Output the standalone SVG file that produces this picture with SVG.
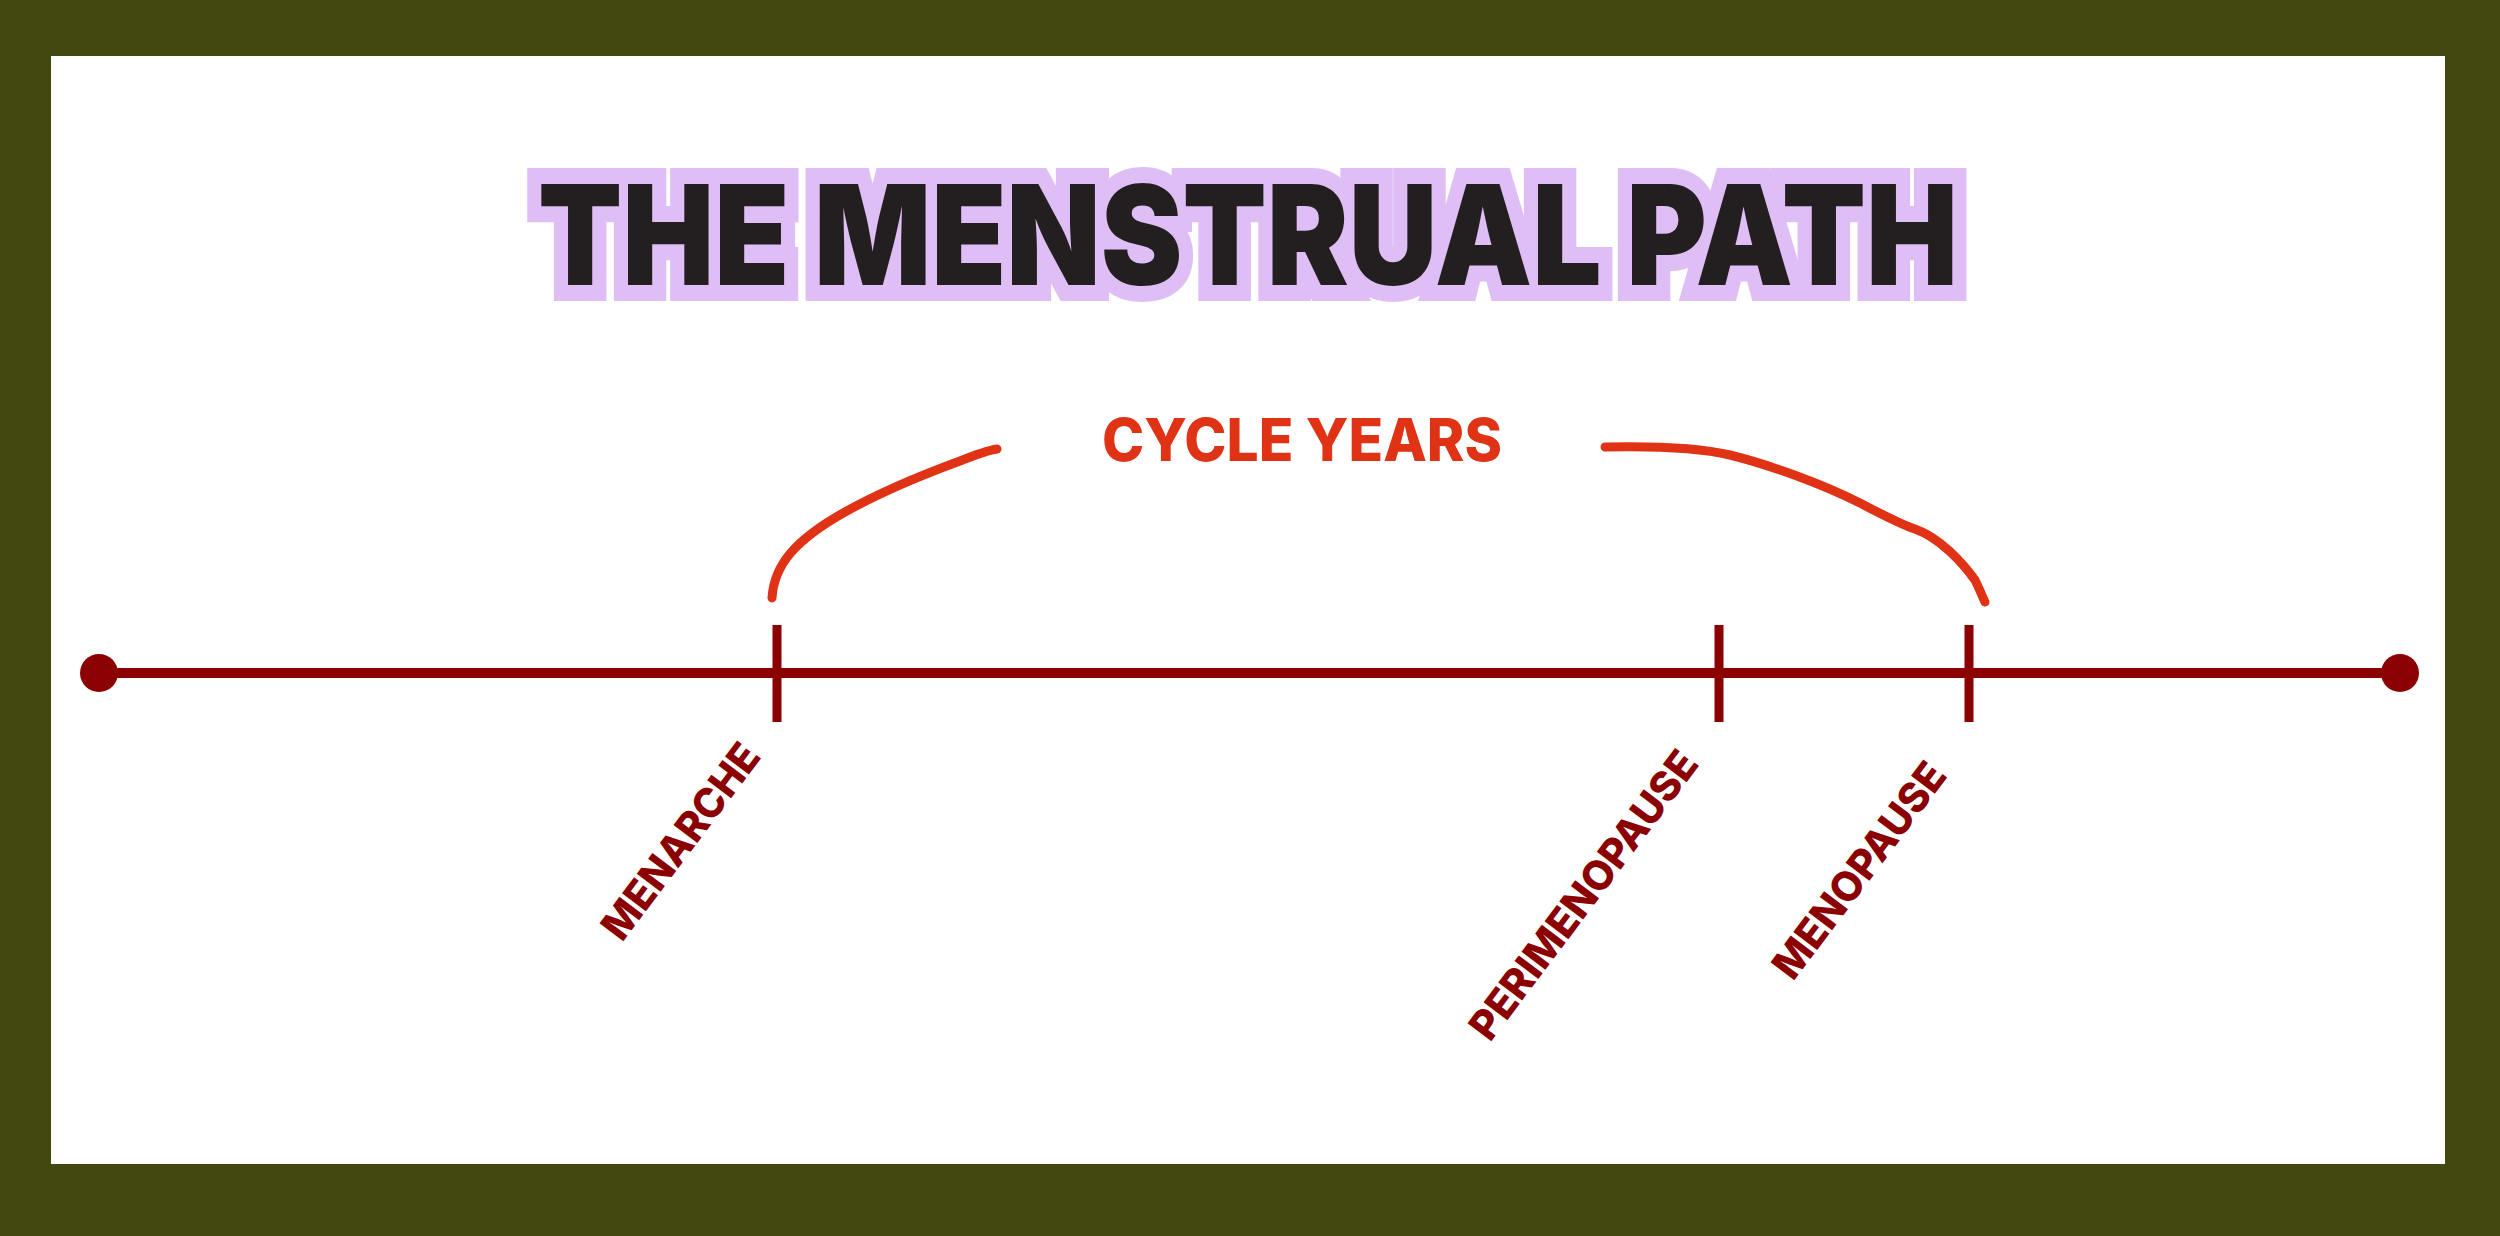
<svg xmlns="http://www.w3.org/2000/svg" width="2500" height="1236" viewBox="0 0 2500 1236">
<style>
.title{font-family:"Inter","Lato","Liberation Sans",sans-serif;font-weight:900;font-size:139px}
.shadow{fill:#dfbef5;stroke:#dfbef5;stroke-width:32;stroke-linejoin:miter}
.ink{fill:#231f20}
.cy{font-family:"Inter","Lato","Liberation Sans",sans-serif;font-weight:800;font-size:59px;fill:#e03214}
.lbl{font-family:"Inter","Lato","Liberation Sans",sans-serif;font-weight:800;font-size:41px;fill:#8b0000}
.brace{fill:none;stroke:#e03214;stroke-width:9;stroke-linecap:round;stroke-linejoin:round}
.axis{stroke:#8b0000;stroke-width:10;fill:none}
.tick{stroke:#8b0000;stroke-width:9}
</style>
<rect x="0" y="0" width="2500" height="1236" fill="#434810"/>
<rect x="51" y="56" width="2394" height="1108" fill="#ffffff"/>
<g id="title">
<text class="title shadow" x="538" y="285" textLength="1420" lengthAdjust="spacingAndGlyphs">THE MENSTRUAL PATH</text>
<text class="title ink" x="538" y="285" textLength="1420" lengthAdjust="spacingAndGlyphs">THE MENSTRUAL PATH</text>
</g>
<g id="cycle-years">
<text class="cy" x="1102" y="461" textLength="400" lengthAdjust="spacingAndGlyphs">CYCLE YEARS</text>
</g>
<g id="connectors">
<path class="brace" d="M772,598 C774,565 795,540 845,512 C888,488 930,472 960,461 C975,455 990,450 997,449"/>
<path class="brace" d="M1605,447 C1650,446 1700,448 1730,455 C1770,465 1820,483 1860,503 C1885,516 1900,524 1915,529 C1940,538 1962,562 1975,580 C1980,590 1983,598 1985,602"/>
<line class="axis" x1="99" y1="673" x2="2400" y2="673"/>
</g>
<g id="start-point"><circle cx="99" cy="673" r="19" fill="#8b0000"/></g>
<g id="end-point"><circle cx="2400" cy="673" r="19" fill="#8b0000"/></g>
<g id="menarche">
<line class="tick" x1="777" y1="625" x2="777" y2="722"/>
<text class="lbl" x="622" y="943" transform="rotate(-53 622 943)" textLength="233" lengthAdjust="spacingAndGlyphs">MENARCHE</text>
</g>
<g id="perimenopause">
<line class="tick" x1="1719" y1="625" x2="1719" y2="722"/>
<text class="lbl" x="1490" y="1043" transform="rotate(-53 1490 1043)" textLength="349" lengthAdjust="spacingAndGlyphs">PERIMENOPAUSE</text>
</g>
<g id="menopause">
<line class="tick" x1="1969" y1="625" x2="1969" y2="722"/>
<text class="lbl" x="1793" y="982" transform="rotate(-53 1793 982)" textLength="258" lengthAdjust="spacingAndGlyphs">MENOPAUSE</text>
</g>
</svg>
